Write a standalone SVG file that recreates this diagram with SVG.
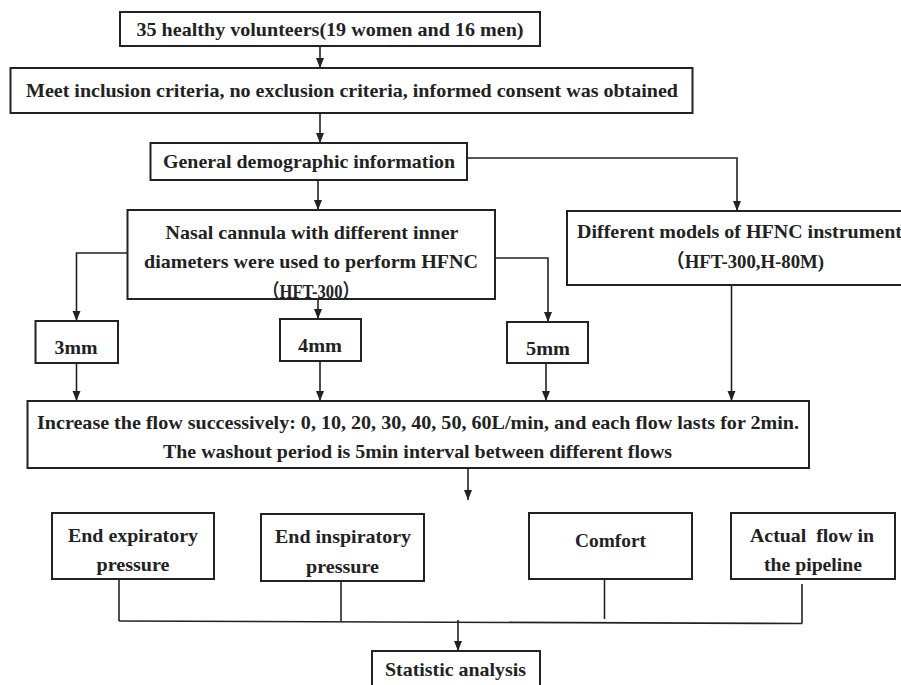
<svg xmlns="http://www.w3.org/2000/svg" width="901" height="685" viewBox="0 0 901 685">
<style>
.box{fill:#fff;stroke:#222;stroke-width:2}
.ln{fill:none;stroke:#222;stroke-width:1.6}
.t{font-family:"Liberation Serif","Times New Roman",serif;font-weight:bold;font-size:19px;fill:#222;text-anchor:middle}
</style>
<defs>
<marker id="ah" markerUnits="userSpaceOnUse" markerWidth="10" markerHeight="10" viewBox="0 0 10 10" refX="10" refY="5" orient="auto">
<path d="M0,1 L10,5 L0,9 Z" fill="#222"/>
</marker>
</defs>
<rect width="901" height="685" fill="#fff"/>
<g id="connectors">
<path class="ln" d="M320,46 V68" marker-end="url(#ah)"/>
<path class="ln" d="M320,113 V143" marker-end="url(#ah)"/>
<path class="ln" d="M318,180 V210" marker-end="url(#ah)"/>
<path class="ln" d="M467,158 H737 V211" marker-end="url(#ah)"/>
<path class="ln" d="M127.5,253 H76.5 V321" marker-end="url(#ah)"/>
<path class="ln" d="M318,299 V319" marker-end="url(#ah)"/>
<path class="ln" d="M495,258 H548 V322" marker-end="url(#ah)"/>
<path class="ln" d="M76.5,363 V401" marker-end="url(#ah)"/>
<path class="ln" d="M320,361 V401" marker-end="url(#ah)"/>
<path class="ln" d="M546,363 V401" marker-end="url(#ah)"/>
<path class="ln" d="M731.5,285 V401" marker-end="url(#ah)"/>
<path class="ln" d="M468,468 V500" marker-end="url(#ah)"/>
<path class="ln" d="M119,579 V621"/>
<path class="ln" d="M341,581 V621.5"/>
<path class="ln" d="M604.5,579 V619"/>
<path class="ln" d="M802,584 V623.5"/>
<path class="ln" d="M119,621 L802,623.5"/>
<path class="ln" d="M458,620 V651" marker-end="url(#ah)"/>
</g>
<g id="n1">
<rect class="box" x="120" y="12" width="420" height="34"/>
<text class="t" x="330" y="36" textLength="387" lengthAdjust="spacingAndGlyphs">35 healthy volunteers(19 women and 16 men)</text>
</g>
<g id="n2">
<rect class="box" x="10.5" y="68" width="682" height="45"/>
<text class="t" x="352" y="97" textLength="652" lengthAdjust="spacingAndGlyphs">Meet inclusion criteria, no exclusion criteria, informed consent was obtained</text>
</g>
<g id="n3">
<rect class="box" x="150.5" y="143" width="316.5" height="37"/>
<text class="t" x="309" y="168" textLength="292" lengthAdjust="spacingAndGlyphs">General demographic information</text>
</g>
<g id="n4">
<rect class="box" x="127.5" y="210" width="367.5" height="89"/>
<text class="t" x="312" y="239" textLength="293" lengthAdjust="spacingAndGlyphs">Nasal cannula with different inner</text>
<text class="t" x="311" y="268" textLength="334" lengthAdjust="spacingAndGlyphs">diameters were used to perform HFNC</text>
<text class="t" x="311" y="298" textLength="96" lengthAdjust="spacingAndGlyphs" style="font-family:'Liberation Serif','Noto Sans CJK SC',serif">（HFT-300）</text>
</g>
<g id="n5">
<rect class="box" x="567" y="211" width="340" height="74"/>
<text class="t" x="739.5" y="238" textLength="325" lengthAdjust="spacingAndGlyphs">Different models of HFNC instrument</text>
<text class="t" x="745" y="268" textLength="158" lengthAdjust="spacingAndGlyphs" style="font-family:'Liberation Serif','Noto Sans CJK SC',serif">（HFT-300,H-80M)</text>
</g>
<g id="n6">
<rect class="box" x="35.5" y="321" width="82.5" height="42"/>
<text class="t" x="76" y="354" textLength="43" lengthAdjust="spacingAndGlyphs">3mm</text>
</g>
<g id="n7">
<rect class="box" x="280" y="319" width="81" height="42"/>
<text class="t" x="320" y="352" textLength="44" lengthAdjust="spacingAndGlyphs">4mm</text>
</g>
<g id="n8">
<rect class="box" x="507" y="322" width="81" height="41"/>
<text class="t" x="548" y="355" textLength="44" lengthAdjust="spacingAndGlyphs">5mm</text>
</g>
<g id="n9">
<rect class="box" x="27.5" y="401" width="781.5" height="67"/>
<text class="t" x="418" y="429" textLength="762" lengthAdjust="spacingAndGlyphs">Increase the flow successively: 0, 10, 20, 30, 40, 50, 60L/min, and each flow lasts for 2min.</text>
<text class="t" x="417.5" y="458" textLength="509" lengthAdjust="spacingAndGlyphs">The washout period is 5min interval between different flows</text>
</g>
<g id="n10">
<rect class="box" x="52" y="513" width="162" height="66"/>
<text class="t" x="133" y="542" textLength="130" lengthAdjust="spacingAndGlyphs">End expiratory</text>
<text class="t" x="133" y="571" textLength="73" lengthAdjust="spacingAndGlyphs">pressure</text>
</g>
<g id="n11">
<rect class="box" x="261" y="514" width="163" height="67"/>
<text class="t" x="343" y="543" textLength="136" lengthAdjust="spacingAndGlyphs">End inspiratory</text>
<text class="t" x="342.5" y="573" textLength="73" lengthAdjust="spacingAndGlyphs">pressure</text>
</g>
<g id="n12">
<rect class="box" x="529" y="513" width="163" height="66"/>
<text class="t" x="610.5" y="547" textLength="71" lengthAdjust="spacingAndGlyphs">Comfort</text>
</g>
<g id="n13">
<rect class="box" x="731" y="513" width="164" height="66"/>
<text class="t" x="812" y="542" textLength="124" lengthAdjust="spacingAndGlyphs" xml:space="preserve">Actual  flow in</text>
<text class="t" x="813" y="571" textLength="98" lengthAdjust="spacingAndGlyphs">the pipeline</text>
</g>
<g id="n14">
<rect class="box" x="372" y="651" width="168" height="44"/>
<text class="t" x="455.5" y="676" textLength="141" lengthAdjust="spacingAndGlyphs">Statistic analysis</text>
</g>
</svg>
